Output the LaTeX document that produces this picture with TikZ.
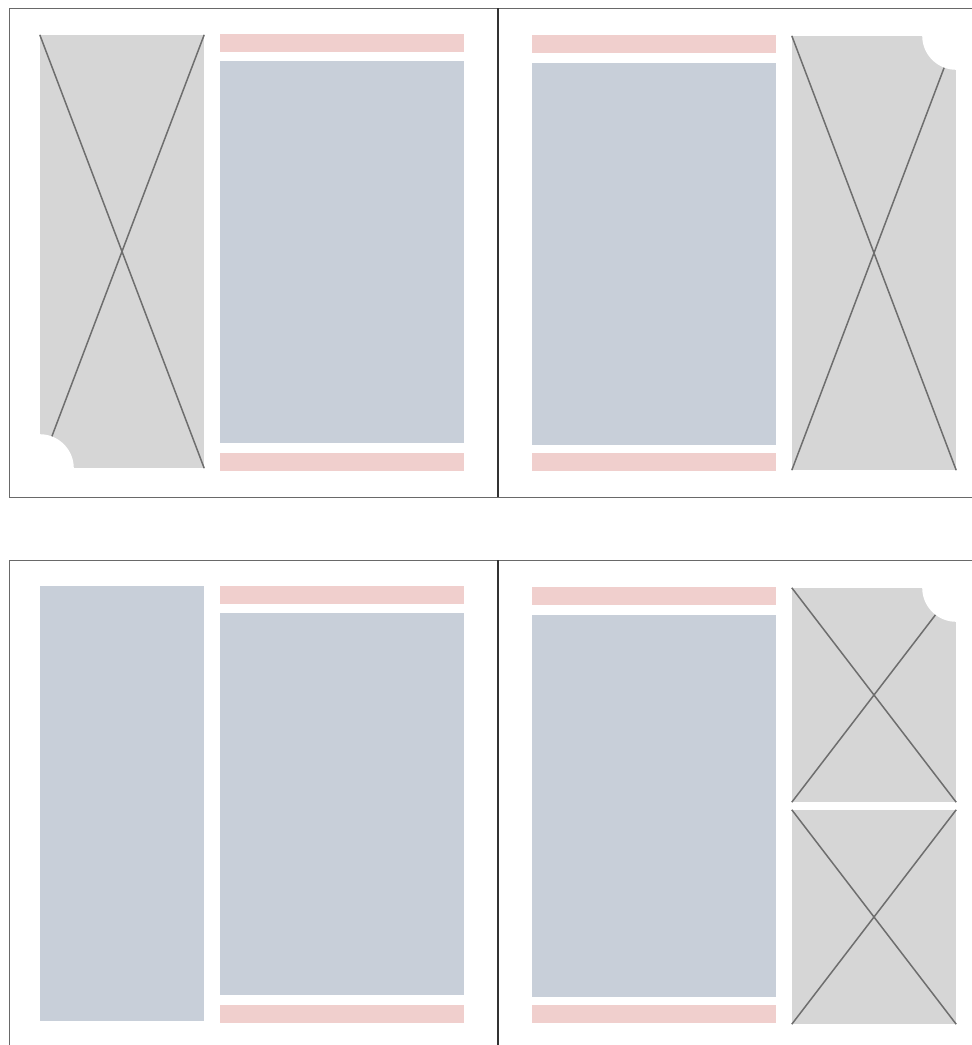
\documentclass[tikz,border=0pt]{standalone}
\usepackage{xcolor}
\definecolor{phgray}{RGB}{214,214,214}
\definecolor{phblue}{RGB}{200,207,217}
\definecolor{phpink}{RGB}{240,207,205}
\definecolor{phline}{RGB}{110,110,110}
\definecolor{edgegray}{RGB}{105,105,105}
\definecolor{spinedark}{RGB}{50,50,50}
\usepackage{tikz}
\usetikzlibrary{positioning}
\tikzset{
  imgbox/.style={fill=phgray, inner sep=0pt, minimum width=164pt},
  textcol/.style={fill=phblue, inner sep=0pt},
  headbar/.style={fill=phpink, inner sep=0pt, minimum width=244pt, minimum height=18pt},
  crossline/.style={draw=phline, line width=1.5pt},
  pageedge/.style={draw=edgegray, line width=1pt},
  spineline/.style={draw=spinedark, line width=2pt}
}

\begin{document}
\begin{tikzpicture}[x=1pt, y=-1pt]
  \useasboundingbox[fill=white] (0,0) rectangle (972,1045);

  % top spread, left page
  \node[imgbox, minimum height=433pt] (img1) at (122,251.5) {};
  \node[headbar] (head1) at (342,43) {};
  \node[textcol, minimum width=244pt, minimum height=382pt] (body1) at (342,252) {};
  \node[headbar] (foot1) at (342,462) {};
  \draw[crossline] (img1.north west) -- (img1.south east);
  \draw[crossline] (img1.north east) -- (img1.south west);
  \fill[white] (img1.south west) circle (34);

  % top spread, right page
  \node[headbar] (head2) at (654,44) {};
  \node[textcol, minimum width=244pt, minimum height=382pt] (body2) at (654,254) {};
  \node[headbar] (foot2) at (654,462) {};
  \node[imgbox, minimum height=434pt] (img2) at (874,253) {};
  \draw[crossline] (img2.north west) -- (img2.south east);
  \draw[crossline] (img2.north east) -- (img2.south west);
  \fill[white] (img2.north east) circle (34);

  % bottom spread, left page
  \node[textcol, minimum width=164pt, minimum height=435pt] (col3) at (122,803.5) {};
  \node[headbar] (head3) at (342,595) {};
  \node[textcol, minimum width=244pt, minimum height=382pt] (body3) at (342,804) {};
  \node[headbar] (foot3) at (342,1014) {};

  % bottom spread, right page
  \node[headbar] (head4) at (654,596) {};
  \node[textcol, minimum width=244pt, minimum height=382pt] (body4) at (654,806) {};
  \node[headbar] (foot4) at (654,1014) {};
  \node[imgbox, minimum height=214pt] (img4a) at (874,695) {};
  \node[imgbox, minimum height=214pt] (img4b) at (874,917) {};
  \draw[crossline] (img4a.north west) -- (img4a.south east);
  \draw[crossline] (img4a.north east) -- (img4a.south west);
  \draw[crossline] (img4b.north west) -- (img4b.south east);
  \draw[crossline] (img4b.north east) -- (img4b.south west);
  \fill[white] (img4a.north east) circle (34);

  % page edges and spines
  \draw[pageedge] (975,8) -- (9,8) -- (9,497) -- (975,497);
  \draw[spineline] (498,8) -- (498,497);
  \draw[pageedge] (975,560) -- (9,560) -- (9,1050);
  \draw[spineline] (498,560) -- (498,1050);
\end{tikzpicture}
\end{document}
